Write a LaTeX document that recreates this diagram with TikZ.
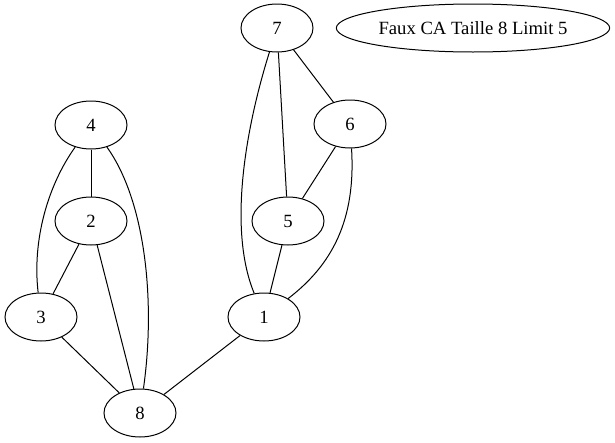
\documentclass[tikz,border=0pt]{standalone}
\usepackage{fontspec}
\setmainfont{Liberation Serif}
\usetikzlibrary{shapes.geometric}
\tikzset{
  gnode/.style={draw, ellipse, line width=0.75pt, minimum width=54pt, minimum height=36pt, inner sep=0pt, font=\fontsize{14}{16}\selectfont},
  gedge/.style={line width=0.75pt}
}
\begin{document}
\begin{tikzpicture}[x=0.75pt, y=-0.75pt]
\useasboundingbox (0,0) rectangle (615,443);
\node[gnode] (n7) at (277,28) {7};
\node[gnode, minimum width=205pt] (lab) at (473,28) {Faux CA Taille 8 Limit 5};
\node[gnode] (n4) at (91,125) {4};
\node[gnode] (n6) at (350,124) {6};
\node[gnode] (n2) at (91,221) {2};
\node[gnode] (n5) at (288,221) {5};
\node[gnode] (n3) at (41,317) {3};
\node[gnode] (n1) at (264,317) {1};
\node[gnode] (n8) at (140,413) {8};
\draw[gedge] (n7) -- (n6);
\draw[gedge] (n7) -- (n5);
\draw[gedge] (n7) .. controls (245,130) and (228,230) .. (n1);
\draw[gedge] (n6) -- (n5);
\draw[gedge] (n6) .. controls (356,220) and (332,265) .. (n1);
\draw[gedge] (n5) -- (n1);
\draw[gedge] (n4) -- (n2);
\draw[gedge] (n4) .. controls (48,185) and (32,240) .. (n3);
\draw[gedge] (n4) .. controls (145,200) and (156,300) .. (n8);
\draw[gedge] (n2) -- (n3);
\draw[gedge] (n2) -- (n8);
\draw[gedge] (n3) -- (n8);
\draw[gedge] (n1) -- (n8);
\end{tikzpicture}
\end{document}
